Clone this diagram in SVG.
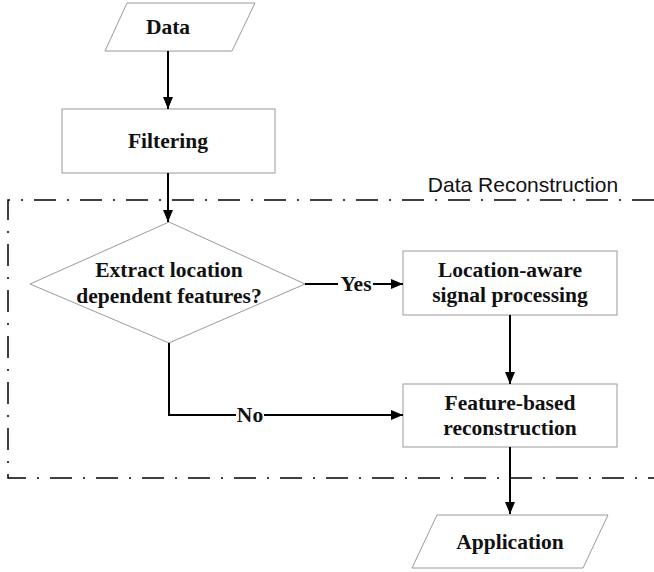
<svg xmlns="http://www.w3.org/2000/svg" width="654" height="572" viewBox="0 0 654 572">
<style>
.shape{fill:#fff;stroke:#9a9a9a;stroke-width:1}
.lbl{font-family:"Liberation Serif","Times New Roman",serif;font-weight:bold;font-size:21.5px;fill:#111;text-anchor:middle}
.conn{fill:none;stroke:#000;stroke-width:2}
.bound{fill:none;stroke:#000;stroke-width:1.5;stroke-dasharray:22 11 2 11}
</style>
<defs>
<marker id="ah" markerWidth="12" markerHeight="10" refX="12" refY="5" orient="auto" markerUnits="userSpaceOnUse">
<path d="M0,0 L12,5 L0,10 Z" fill="#000"/>
</marker>
</defs>
<g id="boundary">
<path class="bound" d="M654,200 L8,200 L8,478 L654,478"/>
<text x="523" y="192" font-family="Liberation Sans,Arial,sans-serif" font-size="21" fill="#111" text-anchor="middle">Data Reconstruction</text>
</g>
<g id="data">
<polygon class="shape" points="127,3 255,3 232,51 105,51"/>
<text class="lbl" x="168" y="34">Data</text>
</g>
<g id="filtering">
<rect class="shape" x="62" y="109" width="213" height="64"/>
<text class="lbl" x="168" y="148">Filtering</text>
</g>
<g id="decision">
<polygon class="shape" points="169,222 305,284 169,343 30,284"/>
<text class="lbl" x="169" y="277">Extract location</text>
<text class="lbl" x="169" y="303">dependent features?</text>
</g>
<g id="location">
<rect class="shape" x="403" y="251" width="214" height="64"/>
<text class="lbl" x="510" y="277">Location-aware</text>
<text class="lbl" x="510" y="302">signal processing</text>
</g>
<g id="feature">
<rect class="shape" x="403" y="384" width="214" height="63"/>
<text class="lbl" x="510" y="410">Feature-based</text>
<text class="lbl" x="510" y="435">reconstruction</text>
</g>
<g id="application">
<polygon class="shape" points="437,515 608,515 583,568 412,568"/>
<text class="lbl" x="510" y="549">Application</text>
</g>
<g id="connectors">
<line class="conn" x1="168" y1="51" x2="168" y2="109" marker-end="url(#ah)"/>
<line class="conn" x1="168" y1="173" x2="168" y2="222" marker-end="url(#ah)"/>
<line class="conn" x1="305" y1="284" x2="338" y2="284"/>
<text class="lbl" x="356" y="291">Yes</text>
<line class="conn" x1="373" y1="284" x2="403" y2="284" marker-end="url(#ah)"/>
<line class="conn" x1="510" y1="315" x2="510" y2="384" marker-end="url(#ah)"/>
<path class="conn" d="M169,343 L169,415 L236,415"/>
<text class="lbl" x="250" y="422">No</text>
<line class="conn" x1="264" y1="415" x2="403" y2="415" marker-end="url(#ah)"/>
<line class="conn" x1="510" y1="447" x2="510" y2="514" marker-end="url(#ah)"/>
</g>
</svg>
